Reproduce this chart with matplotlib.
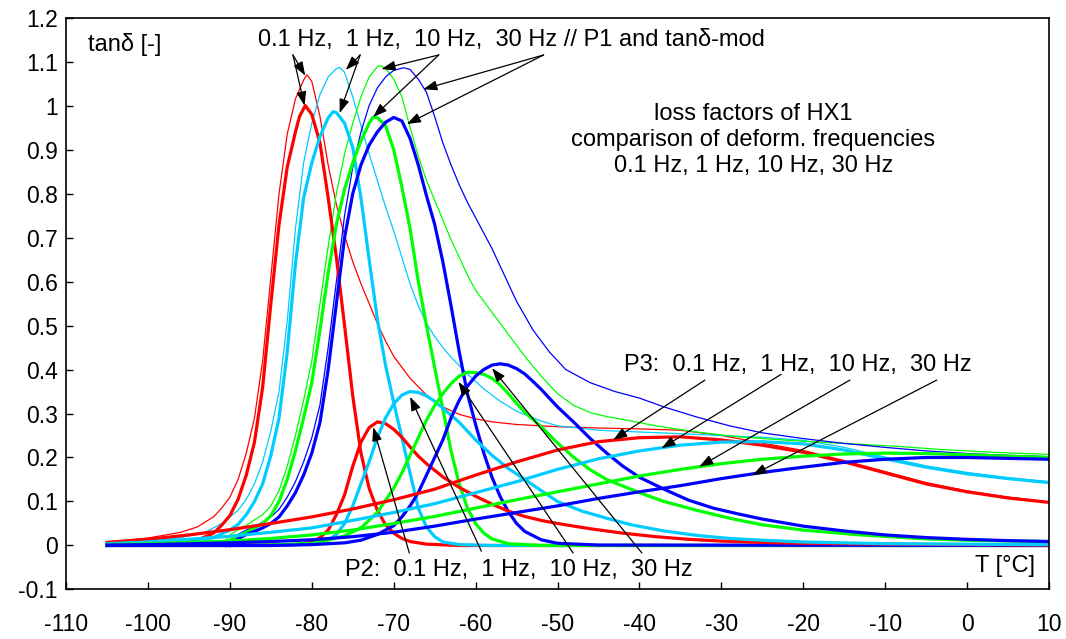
import matplotlib
matplotlib.use("Agg")
import matplotlib.pyplot as plt

plt.rcParams["font.family"] = ["Liberation Sans", "DejaVu Sans"]
plt.rcParams["axes.unicode_minus"] = False

# ---- data (T in degC, tan delta) ----
# P1, thick lines
p1_red_t = [-105, -100, -96, -94, -92, -91, -90, -89, -88, -87, -86, -85, -84, -83, -82, -81.5, -80.8, -80, -79, -78,
            -77, -76, -75, -74, -73, -72, -71, -70, -69, -68, -66, -62, -50, 10]
p1_red_v = [0.0, 0.002, 0.006, 0.012, 0.028, 0.046, 0.068, 0.105, 0.16, 0.235, 0.36, 0.55, 0.73, 0.86, 0.94, 0.975, 1.0, 0.98, 0.915, 0.79,
            0.655, 0.5, 0.34, 0.21, 0.13, 0.08, 0.047, 0.028, 0.016, 0.009, 0.003, 0.0, 0.0, 0.0]

p1_cyan_t = [-105, -100, -95, -92, -90, -89, -88, -87, -86, -85, -84, -83, -82, -81, -80, -79, -78, -77.4, -77, -76,
             -75, -74, -73, -72, -71, -70, -69, -68, -67, -66, -65, -64, -62, -58, 10]
p1_cyan_v = [0.0, 0.001, 0.005, 0.018, 0.035, 0.048, 0.07, 0.1, 0.14, 0.205, 0.29, 0.44, 0.64, 0.79, 0.87, 0.93, 0.972, 0.986, 0.984, 0.96,
             0.905, 0.79, 0.65, 0.515, 0.41, 0.325, 0.245, 0.164, 0.085, 0.042, 0.02, 0.008, 0.002, 0.0, 0.0]

p1_green_t = [-90.5, -90, -89, -88, -87, -86, -85, -84, -83, -82, -81, -80, -79, -78, -77, -76, -75, -74, -73, -72.5,
              -72, -71, -70, -69, -68, -67, -66, -65, -64, -63, -62, -61, -60, -59, -58, -56, -52, 10]
p1_green_v = [0.0, 0.012, 0.022, 0.03, 0.04, 0.05, 0.068, 0.1, 0.15, 0.215, 0.29, 0.37, 0.49, 0.62, 0.73, 0.81, 0.87, 0.92, 0.96, 0.974,
              0.972, 0.955, 0.9, 0.815, 0.72, 0.6, 0.5, 0.405, 0.31, 0.215, 0.14, 0.085, 0.05, 0.028, 0.015, 0.004, 0.0, 0.0]

p1_blue_t = [-90, -89, -88, -87, -86, -85, -84, -83, -82, -81, -80, -79, -78, -77, -76, -75, -74, -73, -72, -71,
             -70, -69, -68, -67, -66, -65, -64, -63, -62, -61, -60, -59, -58, -57, -56, -55, -54, -52, -50, -45, 10]
p1_blue_v = [0.0, 0.015, 0.025, 0.032, 0.04, 0.05, 0.065, 0.09, 0.12, 0.16, 0.21, 0.28, 0.4, 0.55, 0.7, 0.8, 0.865, 0.91, 0.94, 0.962,
             0.973, 0.965, 0.925, 0.865, 0.795, 0.73, 0.645, 0.545, 0.44, 0.345, 0.275, 0.21, 0.155, 0.111, 0.077, 0.05, 0.032, 0.013, 0.005, 0.001, 0.0]

# tan delta-mod, thin lines
mod_red_t = [-105, -100, -96, -94, -92, -91, -90, -89, -88, -87, -86, -85, -84, -83, -82, -81, -80.6, -80, -79, -78,
             -77, -76, -75, -74, -73, -72, -71, -70, -68, -66, -64, -62, -60, -58, -55, -50, -45, -40, -35, -30,
             -25, -20, -15, -10, -5, 0, 5, 10]
mod_red_v = [0.008, 0.017, 0.03, 0.042, 0.065, 0.085, 0.11, 0.15, 0.21, 0.29, 0.42, 0.61, 0.8, 0.935, 1.015, 1.058, 1.07, 1.055, 0.975, 0.865,
             0.775, 0.705, 0.645, 0.595, 0.55, 0.505, 0.465, 0.43, 0.38, 0.342, 0.315, 0.298, 0.288, 0.281, 0.275, 0.27, 0.267, 0.265, 0.262, 0.25,
             0.233, 0.216, 0.193, 0.168, 0.143, 0.124, 0.11, 0.099]

mod_cyan_t = [-105, -100, -96, -93, -91, -90, -89, -88, -87, -86, -85, -84, -83, -82, -81, -80, -79, -78, -77, -76.6,
              -76, -75, -74, -73, -72, -71, -70, -69, -68, -67, -66, -65, -64, -63, -61, -59, -57, -55, -52, -50,
              -45, -40, -35, -30, -25, -20, -15, -10, -5, 0, 5, 10]
mod_cyan_v = [0.004, 0.01, 0.018, 0.03, 0.05, 0.065, 0.08, 0.105, 0.14, 0.19, 0.26, 0.35, 0.51, 0.72, 0.87, 0.96, 1.025, 1.065, 1.084, 1.087,
              1.075, 1.02, 0.955, 0.89, 0.83, 0.77, 0.715, 0.655, 0.595, 0.545, 0.505, 0.475, 0.45, 0.428, 0.39, 0.356, 0.328, 0.305, 0.283, 0.272,
              0.262, 0.258, 0.254, 0.25, 0.246, 0.239, 0.223, 0.201, 0.181, 0.166, 0.154, 0.145]

mod_green_t = [-90.5, -90, -89, -88, -87, -86, -85, -84, -83, -82, -81, -80, -79, -78, -77, -76, -75, -74, -73, -72,
               -71.7, -71, -70, -69, -68, -67, -66, -65, -64, -63, -62, -61, -60, -58, -56, -54, -52, -50, -48, -46,
               -44, -41, -38, -33, -28, -21, -15, -9, -3, 3, 10]
mod_green_v = [0.01, 0.024, 0.036, 0.046, 0.058, 0.07, 0.09, 0.125, 0.18, 0.25, 0.33, 0.42, 0.55, 0.68, 0.8, 0.89, 0.96, 1.02, 1.065, 1.088,
               1.091, 1.085, 1.06, 1.02, 0.95, 0.885, 0.83, 0.785, 0.74, 0.695, 0.655, 0.615, 0.58, 0.53, 0.48, 0.43, 0.385, 0.345, 0.318, 0.302,
               0.293, 0.283, 0.272, 0.258, 0.247, 0.238, 0.232, 0.226, 0.218, 0.212, 0.207]

mod_blue_t = [-90, -89, -88, -87, -86, -85, -84, -83, -82, -81, -80, -79, -78, -77, -76, -75, -74, -73, -72, -71,
              -70, -68.8, -68, -67, -66, -65, -64, -63, -62, -61, -60, -59, -58, -57, -56, -55, -53, -51, -49, -46,
              -43, -40, -37, -33, -29, -25, -20, -15, -10, -5, 0, 5, 10]
mod_blue_v = [0.01, 0.025, 0.035, 0.043, 0.053, 0.065, 0.082, 0.11, 0.145, 0.19, 0.245, 0.32, 0.45, 0.6, 0.75, 0.86, 0.94, 1.0, 1.04, 1.065,
              1.08, 1.086, 1.082, 1.06, 1.03, 0.975, 0.915, 0.865, 0.82, 0.78, 0.745, 0.71, 0.675, 0.635, 0.595, 0.555, 0.49, 0.44, 0.4, 0.37,
              0.35, 0.335, 0.315, 0.292, 0.272, 0.256, 0.243, 0.232, 0.223, 0.215, 0.209, 0.205, 0.202]

# P2
p2_red_t = [-105, -90, -84, -82, -80, -79, -78, -77, -76, -75, -74, -73, -72, -71, -70, -69, -68, -67, -66, -64,
            -62, -60, -58, -56, -54, -52, -50, -46, -42, -38, -34, -30, -25, -20, -10, 0, 10]
p2_red_v = [0.0, 0.0, 0.001, 0.002, 0.008, 0.018, 0.035, 0.07, 0.115, 0.18, 0.235, 0.268, 0.281, 0.277, 0.264, 0.246, 0.224, 0.203, 0.186, 0.156,
            0.132, 0.112, 0.094, 0.078, 0.066, 0.057, 0.05, 0.038, 0.028, 0.02, 0.014, 0.01, 0.007, 0.005, 0.003, 0.002, 0.001]

p2_cyan_t = [-105, -85, -80, -78, -77, -76, -75, -74, -73, -72, -71, -70, -69, -68, -67, -66, -65, -64, -62, -60,
             -58, -56, -54, -52, -50, -47, -44, -41, -37, -33, -29, -25, -20, -10, 0, 10]
p2_cyan_v = [0.0, 0.0, 0.003, 0.012, 0.025, 0.05, 0.09, 0.14, 0.19, 0.245, 0.29, 0.322, 0.342, 0.35, 0.348, 0.34, 0.328, 0.312, 0.28, 0.24,
             0.205, 0.175, 0.15, 0.125, 0.1, 0.078, 0.062, 0.047, 0.033, 0.023, 0.016, 0.012, 0.008, 0.004, 0.003, 0.002]

p2_green_t = [-105, -85, -80, -78, -76, -74, -72, -70, -69, -68, -67, -66, -65, -64, -63, -62, -61, -60, -59, -58,
              -57, -56, -55, -54, -52, -50, -48, -46, -44, -42, -40, -37, -33, -29, -25, -20, -13, -5, 0, 10]
p2_green_v = [0.0, 0.001, 0.005, 0.012, 0.022, 0.04, 0.075, 0.13, 0.165, 0.205, 0.245, 0.285, 0.318, 0.345, 0.368, 0.385, 0.394, 0.393, 0.389, 0.38,
              0.365, 0.345, 0.323, 0.303, 0.27, 0.233, 0.2, 0.172, 0.15, 0.135, 0.12, 0.1, 0.08, 0.062, 0.047, 0.035, 0.024, 0.015, 0.012, 0.009]

p2_blue_t = [-105, -85, -80, -76, -74, -72, -70, -69, -68, -67, -66, -65, -64, -63, -62, -61, -60, -59, -58, -57,
             -56, -55, -54, -53, -52, -50, -48, -46, -44, -42, -40, -37, -34, -31, -28, -25, -20, -15, -10, -5,
             0, 5, 10]
p2_blue_v = [0.0, 0.0, 0.002, 0.006, 0.012, 0.025, 0.045, 0.065, 0.09, 0.12, 0.16, 0.2, 0.24, 0.29, 0.33, 0.362, 0.385, 0.4, 0.41, 0.413,
             0.41, 0.402, 0.39, 0.373, 0.355, 0.315, 0.28, 0.243, 0.21, 0.18, 0.155, 0.128, 0.103, 0.085, 0.072, 0.06, 0.044, 0.033, 0.024, 0.018,
             0.014, 0.011, 0.009]

# P3 (broad peaks)
p3_t = [-105, -100, -95, -90, -85, -80, -75, -70, -65, -60, -55, -50, -45, -40, -35, -30, -25, -20, -15, -10, -5, 0, 5, 10]
p3_red_v = [0.007, 0.014, 0.024, 0.036, 0.05, 0.065, 0.083, 0.104, 0.128, 0.16, 0.19, 0.217, 0.236, 0.245, 0.247, 0.24,
            0.228, 0.212, 0.19, 0.165, 0.14, 0.122, 0.108, 0.098]
p3_cyan_v = [0.004, 0.008, 0.014, 0.021, 0.03, 0.04, 0.057, 0.075, 0.095, 0.12, 0.145, 0.173, 0.197, 0.215, 0.228, 0.235,
             0.236, 0.231, 0.217, 0.197, 0.178, 0.163, 0.152, 0.143]
p3_green_v = [0.002, 0.004, 0.007, 0.01, 0.016, 0.024, 0.035, 0.05, 0.066, 0.085, 0.104, 0.122, 0.14, 0.158, 0.173, 0.186,
              0.196, 0.203, 0.208, 0.21, 0.209, 0.206, 0.203, 0.2]
p3_blue_v = [0.001, 0.002, 0.004, 0.006, 0.009, 0.013, 0.02, 0.03, 0.044, 0.06, 0.075, 0.09, 0.107, 0.122, 0.136, 0.152,
             0.166, 0.178, 0.189, 0.196, 0.2, 0.2, 0.198, 0.196]

RED, CYAN, GREEN, BLUE = "#ff0000", "#00ccff", "#00ff00", "#0000ff"
THIN, THICK = 0.9, 2.3

fig = plt.figure(figsize=(10.66, 6.39), dpi=100)
ax = fig.add_axes([0.062, 0.0775, 0.922, 0.895])

for t, v, c in [(mod_red_t, mod_red_v, RED), (mod_cyan_t, mod_cyan_v, CYAN),
                (mod_green_t, mod_green_v, GREEN), (mod_blue_t, mod_blue_v, BLUE)]:
    ax.plot(t, v, color=c, lw=THIN)
for t, v, c in [(p1_red_t, p1_red_v, RED), (p1_cyan_t, p1_cyan_v, CYAN),
                (p1_green_t, p1_green_v, GREEN), (p1_blue_t, p1_blue_v, BLUE),
                (p2_red_t, p2_red_v, RED), (p2_cyan_t, p2_cyan_v, CYAN),
                (p2_green_t, p2_green_v, GREEN), (p2_blue_t, p2_blue_v, BLUE),
                (p3_t, p3_red_v, RED), (p3_t, p3_cyan_v, CYAN),
                (p3_t, p3_green_v, GREEN), (p3_t, p3_blue_v, BLUE)]:
    ax.plot(t, v, color=c, lw=THICK, solid_joinstyle="round")

ax.set_xlim(-110, 10)
ax.set_ylim(-0.1, 1.2)
ax.set_xticks(range(-110, 11, 10))
yt = [i / 10 for i in range(-1, 13)]
ax.set_yticks(yt)
ax.set_yticklabels(["%g" % y for y in yt])
ax.tick_params(direction="in", length=5, width=1, labelsize=16.5)
ax.tick_params(axis="y", pad=6)
ax.tick_params(axis="x", pad=17)
for s in ax.spines.values():
    s.set_linewidth(1.2)

FS = 17
ax.text(-107.3, 1.138, "tanδ [-]", fontsize=FS, va="center", ha="left")
ax.text(8.3, -0.047, "T [°C]", fontsize=FS, va="center", ha="right")
ax.text(-86.6, 1.149, "0.1 Hz,  1 Hz,  10 Hz,  30 Hz // P1 and tanδ-mod", fontsize=FS, va="center", ha="left")
ax.text(-26.1, 0.922, "loss factors of HX1\ncomparison of deform. frequencies\n0.1 Hz, 1 Hz, 10 Hz, 30 Hz",
        fontsize=FS, va="center", ha="center", linespacing=1.25)
ax.text(-76.0, -0.056, "P2:  0.1 Hz,  1 Hz,  10 Hz,  30 Hz", fontsize=FS, va="center", ha="left")
ax.text(-41.9, 0.41, "P3:  0.1 Hz,  1 Hz,  10 Hz,  30 Hz", fontsize=FS, va="center", ha="left")

arrows = [
    ((-82.3, 1.115), (-80.8, 1.068)), ((-82.3, 1.115), (-80.9, 1.0)),
    ((-74.1, 1.115), (-75.85, 1.081)), ((-74.1, 1.115), (-76.6, 0.983)),
    ((-64.5, 1.115), (-71.5, 1.083)), ((-64.5, 1.115), (-72.5, 0.974)),
    ((-51.7, 1.115), (-66.4, 1.037)), ((-51.7, 1.115), (-68.4, 0.958)),
    ((-68.1, -0.017), (-72.5, 0.269)), ((-59.3, -0.013), (-68.0, 0.338)),
    ((-48.1, -0.017), (-62.1, 0.372)), ((-39.7, -0.017), (-58.0, 0.403)),
    ((-32.0, 0.376), (-43.2, 0.24)), ((-22.7, 0.389), (-37.3, 0.221)),
    ((-14.3, 0.376), (-32.7, 0.179)), ((-3.7, 0.376), (-26.2, 0.16)),
]
for start, tip in arrows:
    ax.annotate("", xy=tip, xytext=start,
                arrowprops=dict(arrowstyle="-|>,head_length=0.7,head_width=0.25", color="black",
                                lw=0.9, shrinkA=0, shrinkB=0, mutation_scale=12))

fig.savefig("out.png", dpi=100)
